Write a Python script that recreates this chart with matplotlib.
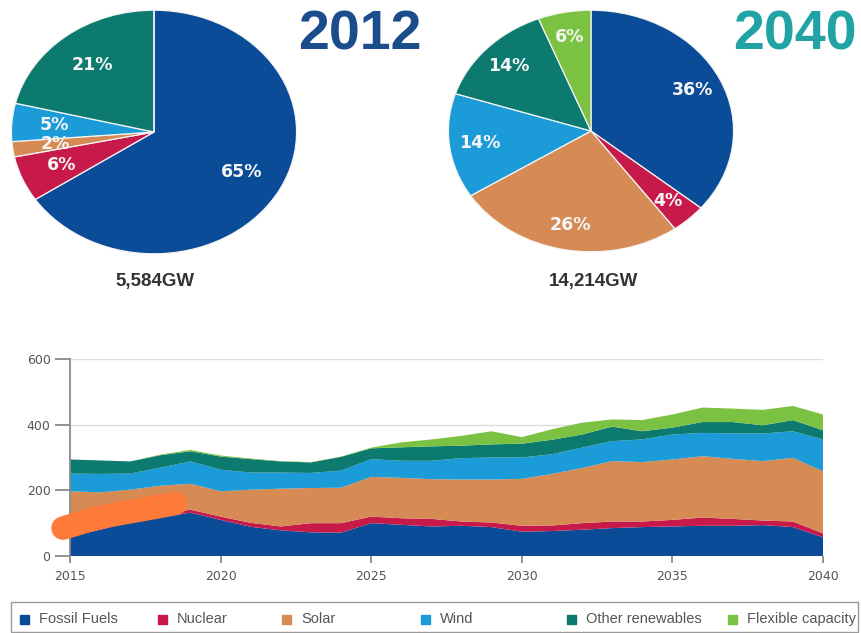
import matplotlib.pyplot as plt
from matplotlib.patches import Rectangle
import numpy as np

plt.rcParams['font.family'] = ['DejaVu Sans']

categories = ['Fossil Fuels', 'Nuclear', 'Solar', 'Wind', 'Other renewables', 'Flexible capacity']
colours = ['#0b4c98', '#c81a4a', '#d68a54', '#1b9bd7', '#0d7a6f', '#7cc242']

# capacity mix (%) and total installed capacity
share_2012 = [65, 6, 2, 5, 21, 0]
share_2040 = [36, 4, 26, 14, 14, 6]
total_2012 = '5,584GW'
total_2040 = '14,214GW'

# yearly capacity additions, GW
years = list(range(2015, 2041))
fossil = [60, 80, 101, 118, 132, 110, 89, 78, 72, 71, 100, 95, 90,
          92, 88, 74, 76, 80, 85, 88, 90, 92, 92, 94, 88, 57]
nuclear = [10, 10, 9, 10, 9, 10, 12, 12, 28, 29, 20, 20, 23,
           13, 14, 18, 17, 20, 20, 17, 20, 25, 21, 14, 17, 12]
solar = [127, 104, 92, 86, 79, 77, 101, 115, 107, 108, 121, 123, 121,
         128, 131, 143, 157, 168, 184, 181, 184, 187, 183, 181, 194, 189]
wind = [54, 56, 49, 55, 68, 66, 52, 49, 46, 52, 54, 52, 56,
        65, 67, 65, 60, 62, 61, 69, 76, 71, 77, 84, 81, 97]
other = [43, 41, 37, 38, 31, 40, 41, 34, 32, 42, 33, 41, 44,
         38, 40, 42, 44, 40, 44, 25, 21, 33, 35, 25, 34, 28]
flexible = [0, 0, 0, 2, 4, 3, 2, 1, 1, 1, 2, 15, 21,
            30, 40, 20, 32, 36, 22, 34, 40, 44, 41, 47, 43, 48]

# marker stroke across the early years
highlight_x = [2014.77, 2015.6, 2016.3, 2017.0, 2017.8, 2018.5]
highlight_y = [85, 108, 124, 135, 148, 160]

W, H = 862, 633
fig = plt.figure(figsize=(W / 100, H / 100), dpi=100)


def px(x0, y0, x1, y1):
    # pixel box (top-left origin) -> figure fraction rect
    return [x0 / W, 1 - y1 / H, (x1 - x0) / W, (y1 - y0) / H]


def draw_pie(rect, shares, dist):
    ax = fig.add_axes(rect)
    wedges, _ = ax.pie(shares, colors=colours, startangle=90, counterclock=False,
                       wedgeprops=dict(edgecolor='#f4f4f4', linewidth=0.9))
    ax.set_aspect('auto')
    ax.set_xlim(-1.01, 1.01)
    ax.set_ylim(-1.01, 1.01)
    for w, s in zip(wedges, shares):
        if s == 0:
            continue
        mid = np.deg2rad((w.theta1 + w.theta2) / 2)
        ax.text(dist * np.cos(mid), dist * np.sin(mid), f'{s}%',
                ha='center', va='center', color='#f6f6f6', fontsize=12.5,
                fontweight='bold')
    return ax


draw_pie(px(10, 9, 298, 255), share_2012, 0.70)
draw_pie(px(447, 9, 735, 253), share_2040, 0.79)

fig.text(360 / W, 1 - 36 / H, '2012', ha='center', va='center', fontsize=40,
         fontweight='bold', color='#1b4d8c', family=['Liberation Sans'])
fig.text(795 / W, 1 - 36 / H, '2040', ha='center', va='center', fontsize=40,
         fontweight='bold', color='#21a3a6', family=['Liberation Sans'])
fig.text(155 / W, 1 - 282 / H, total_2012, ha='center', va='center', fontsize=13.5,
         fontweight='bold', color='#333333', family=['Liberation Sans'])
fig.text(594 / W, 1 - 282 / H, total_2040, ha='center', va='center', fontsize=13.5,
         fontweight='bold', color='#333333', family=['Liberation Sans'])

# stacked area of yearly additions
ax = fig.add_axes(px(70, 359, 823, 556))
ax.stackplot(years, fossil, nuclear, solar, wind, other, flexible,
             colors=colours, linewidth=0)
ax.plot(highlight_x, highlight_y, color='#ff7b3a', lw=17, solid_capstyle='round',
        clip_on=False, zorder=5)
ax.set_xlim(2015, 2040)
ax.set_ylim(0, 600)
ax.set_xticks(range(2015, 2041, 5))
ax.set_yticks([0, 200, 400, 600])
ax.grid(axis='y', color='#dddddd', lw=1)
ax.set_axisbelow(True)
for s in ['top', 'right', 'bottom']:
    ax.spines[s].set_visible(False)
ax.spines['left'].set_color('#8a8a8a')
ax.spines['left'].set_linewidth(1.3)
ax.tick_params(axis='y', length=11, width=1.3, color='#8a8a8a', pad=3,
               labelsize=9, labelcolor='#555555')
ax.tick_params(axis='x', length=5, width=1.3, color='#8a8a8a', pad=5,
               labelsize=9, labelcolor='#555555')

# legend strip along the bottom
fig.patches.append(Rectangle((11 / W, 1 - 632 / H), 847 / W, 30 / H,
                             transform=fig.transFigure, fill=False,
                             edgecolor='#9a9a9a', lw=1))
legend_x = [25, 163, 287, 426, 572, 733]
for name, col, x in zip(categories, colours, legend_x):
    fig.patches.append(Rectangle(((x - 4.5) / W, 1 - 623.5 / H), 9 / W, 9 / H,
                                 transform=fig.transFigure, color=col))
    fig.text((x + 14) / W, 1 - 619 / H, name, ha='left', va='center',
             fontsize=10.5, color='#555555', family=['Liberation Sans'])

fig.savefig('out.png', dpi=100)
